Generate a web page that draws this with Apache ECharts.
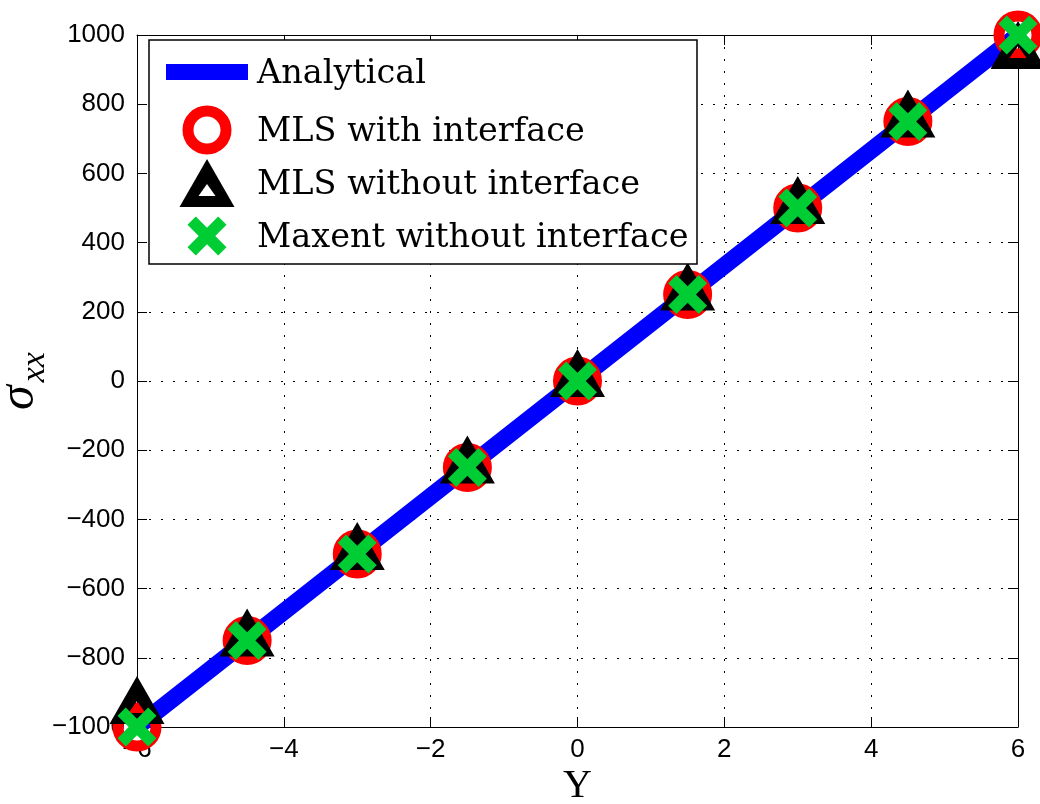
<!DOCTYPE html>
<html>
<head>
<meta charset="utf-8">
<script src="https://cdn.jsdelivr.net/npm/echarts@6/dist/echarts.min.js"></script>
<style>html,body{margin:0;padding:0;background:#fff;}#c{width:1040px;height:804px;}</style>
</head>
<body>
<div id="c"></div>
<script>
// ---- data ----
const yPositions = [-6, -4.5, -3, -1.5, 0, 1.5, 3, 4.5, 6];
const analytical = [-1000, -750, -500, -250, 0, 250, 500, 750, 1000];
const mlsWithInterface = [-1000, -750, -500, -250, 0, 250, 500, 750, 1000];
const mlsWithoutInterface = [-945, -750, -500, -250, 0, 250, 500, 750, 948];
const maxentWithoutInterface = [-1000, -750, -500, -250, 0, 250, 500, 750, 1000];
const seriesNames = ['Analytical', 'MLS with interface', 'MLS without interface', 'Maxent without interface'];
const xAxisTitle = 'Y';

const pair = (xs, ys) => xs.map((x, i) => [x, ys[i]]);
const fmt = v => (v < 0 ? '\u2212' : '') + Math.abs(v);

const TRI = 'path://M27.5,0 L55,48 L0,48 Z M27.5,25 L19,37 L36,37 Z';
const XPTS = [[0,8.5],[8.5,0],[20,11.5],[31.5,0],[40,8.5],[28.5,20],[40,31.5],[31.5,40],[20,28.5],[8.5,40],[0,31.5],[11.5,20]];
const XMARK = 'path://M' + XPTS.map(p => p.join(',')).join(' L') + ' Z';
const GREEN = '#00cc33';

const chart = echarts.init(document.getElementById('c'), null, {renderer: 'canvas'});
const tickFont = {fontFamily: 'Liberation Sans, Arial, sans-serif', fontSize: 26, color: '#000'};
const axLine = {show: true, onZero: false, lineStyle: {color: '#000', width: 1}};
const axTick = {show: true, inside: true, length: 10, lineStyle: {color: '#000', width: 1}};
const grid = {show: false, left: 137, right: 22, top: 35, bottom: 77, containLabel: false, outerBoundsMode: 'none'};
const split = {show: true, lineStyle: {color: '#000', width: 1, type: [2, 10]}};

const legX = 149, legY = 40, legW = 548, legH = 224;
const rowY = [72, 130, 183, 236];
const symX = 207, txtX = 257;
const legFont = 'DejaVu Serif, Liberation Serif, serif';

chart.setOption({
  animation: false,
  backgroundColor: '#fff',
  grid: grid,
  xAxis: [{
    type: 'value', min: -6, max: 6, interval: 2, position: 'bottom',
    axisLine: axLine, axisTick: axTick, splitLine: split,
    axisLabel: Object.assign({margin: 10, formatter: fmt}, tickFont),
    name: xAxisTitle, nameLocation: 'middle', nameGap: 39, nameMoveOverlap: false,
    nameTextStyle: {fontFamily: 'Liberation Serif, serif', fontSize: 40, color: '#000'}
  }, {
    type: 'value', min: -6, max: 6, interval: 2, position: 'top',
    axisLine: axLine, axisTick: axTick, splitLine: {show: false}, axisLabel: {show: false}
  }],
  yAxis: [{
    type: 'value', min: -1000, max: 1000, interval: 200, position: 'left',
    axisLine: axLine, axisTick: axTick, splitLine: split,
    axisLabel: Object.assign({margin: 12, formatter: fmt}, tickFont),
    name: '{s|\u03c3}{x|xx}', nameLocation: 'middle', nameGap: 85, nameRotate: 90, nameMoveOverlap: false,
    nameTextStyle: {
      color: '#000',
      rich: {
        s: {fontFamily: 'Liberation Serif, serif', fontStyle: 'italic', fontSize: 50, color: '#000'},
        x: {fontFamily: 'Liberation Serif, serif', fontStyle: 'italic', fontSize: 34, color: '#000', padding: [30, 0, 0, 3]}
      }
    }
  }, {
    type: 'value', min: -1000, max: 1000, interval: 200, position: 'right',
    axisLine: axLine, axisTick: axTick, splitLine: {show: false}, axisLabel: {show: false}
  }],
  series: [
    {
      name: seriesNames[0], type: 'line', data: pair(yPositions, analytical),
      showSymbol: false, symbol: 'none', clip: false, z: 2,
      lineStyle: {color: '#0000ff', width: 17, cap: 'butt'}
    },
    {
      name: seriesNames[1], type: 'scatter', data: pair(yPositions, mlsWithInterface),
      symbol: 'circle', symbolSize: 38, clip: false, z: 3,
      itemStyle: {color: 'rgba(0,0,0,0)', borderColor: '#ff0000', borderWidth: 11, opacity: 1}
    },
    {
      name: seriesNames[2], type: 'scatter', data: pair(yPositions, mlsWithoutInterface),
      symbol: TRI, symbolSize: [55, 48], symbolOffset: [0, -8], clip: false, z: 4,
      itemStyle: {color: '#000', borderWidth: 0, opacity: 1}
    },
    {
      name: seriesNames[3], type: 'scatter', data: pair(yPositions, maxentWithoutInterface),
      symbol: XMARK, symbolSize: [39, 39], clip: false, z: 5,
      itemStyle: {color: GREEN, borderWidth: 0, opacity: 1}
    }
  ],
  graphic: [
    {type: 'rect', z: 100, shape: {x: legX, y: legY, width: legW, height: legH},
      style: {fill: '#fff', stroke: '#000', lineWidth: 1.5}},
    {type: 'rect', z: 101, shape: {x: 166, y: rowY[0] - 8, width: 82, height: 16}, style: {fill: '#0000ff'}},
    {type: 'circle', z: 101, shape: {cx: symX, cy: rowY[1], r: 19}, style: {fill: 'none', stroke: '#ff0000', lineWidth: 11}},
    {type: 'polygon', z: 101, shape: {points: [[symX, rowY[2] - 24], [symX + 27.5, rowY[2] + 24], [symX - 27.5, rowY[2] + 24]]}, style: {fill: '#000'}},
    {type: 'polygon', z: 102, shape: {points: [[symX, rowY[2] + 1], [symX - 8.5, rowY[2] + 13], [symX + 8.5, rowY[2] + 13]]}, style: {fill: '#fff'}},
    {type: 'polygon', z: 101, shape: {points: XPTS.map(p => [symX + (p[0] - 20) * 0.975, rowY[3] + (p[1] - 20) * 0.975])}, style: {fill: GREEN}},
    ...seriesNames.map((n, i) => ({
      type: 'text', z: 101, x: txtX, y: rowY[i] + 2,
      style: {text: n, fill: '#000', font: '33.5px ' + legFont, verticalAlign: 'middle'}
    }))
  ]
});
</script>
</body>
</html>
